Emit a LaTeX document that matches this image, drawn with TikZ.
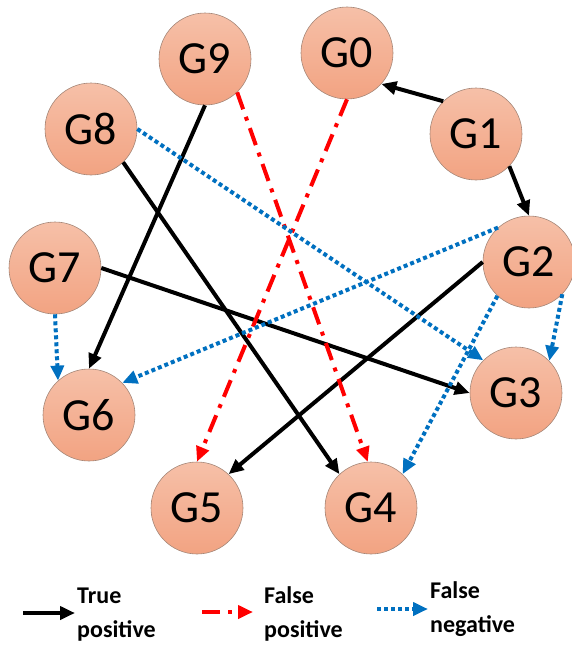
\documentclass[tikz,border=0pt]{standalone}
\usepackage{fontspec}
\setmainfont{Carlito}
\usetikzlibrary{arrows.meta}
\definecolor{nodetop}{RGB}{246,192,168}
\definecolor{nodebot}{RGB}{242,163,130}
\definecolor{nodeline}{RGB}{165,135,120}
\definecolor{fpred}{RGB}{255,0,0}
\definecolor{fnblue}{RGB}{0,112,192}
\tikzset{
  gnode/.style={circle, minimum size=92pt, inner sep=0pt, draw=nodeline, line width=0.6pt,
    top color=nodetop, bottom color=nodebot, font=\fontsize{46}{46}\selectfont},
  tip/.style={-{Triangle[length=15pt,width=13pt]}},
  tp/.style={tip, line width=4pt, black},
  fp/.style={tip, line width=4pt, fpred, dash pattern=on 18pt off 8pt on 4pt off 8pt},
  fn/.style={tip, line width=4pt, fnblue, dash pattern=on 4pt off 3pt},
  legtext/.style={anchor=base west, inner sep=0pt, align=left,
    font=\fontsize{24}{34}\selectfont\bfseries},
}
\begin{document}
\begin{tikzpicture}[x=1pt,y=-1pt]
\useasboundingbox (0,0) rectangle (572,645);
% nodes
\node[gnode] (G0) at (347,53) {G0};
\node[gnode] (G1) at (476,134) {G1};
\node[gnode] (G2) at (529,262) {G2};
\node[gnode] (G3) at (516,393) {G3};
\node[gnode] (G4) at (371,508) {G4};
\node[gnode] (G5) at (197,508) {G5};
\node[gnode] (G6) at (89,415) {G6};
\node[gnode] (G7) at (55,268) {G7};
\node[gnode] (G8) at (91,129) {G8};
\node[gnode] (G9) at (205,59) {G9};
% true positives
\draw[tp] (G1.135) -- (G0.-42);
\draw[tp] (G1.-44) -- (G2.90);
\draw[tp] (G9.-90) -- (G6.90);
\draw[tp] (G8.-46) -- (G4.133);
\draw[tp] (G7.0) -- (G3.180);
\draw[tp] (G2.180) -- (G5.47);
% false positives
\draw[fp] (G9.-46) -- (G4.94);
\draw[fp] (G0.-90) -- (G5.90);
% false negatives
\draw[fn] (G8.0) -- (G3.135);
\draw[fn] (G2.132) -- (G6.44);
\draw[fn] (G7.-90) -- (G6.132);
\draw[fn] (G2.-133) -- (G4.47);
\draw[fn] (G2.-44) -- (G3.44);
% legend
\coordinate (l1a) at (23,613);
\coordinate (l1b) at (75,613);
\coordinate (l2a) at (202,612);
\coordinate (l2b) at (253,612);
\coordinate (l3a) at (377,609);
\coordinate (l3b) at (428,609);
\draw[tp] (l1a) -- (l1b);
\draw[fp] (l2a) -- (l2b);
\draw[fn] (l3a) -- (l3b);
\node[legtext] (t1) at (77,637) {True\\positive};
\node[legtext] (t2) at (264,637) {False\\positive};
\node[legtext] (t3) at (430,632) {False\\negative};
\end{tikzpicture}
\end{document}
